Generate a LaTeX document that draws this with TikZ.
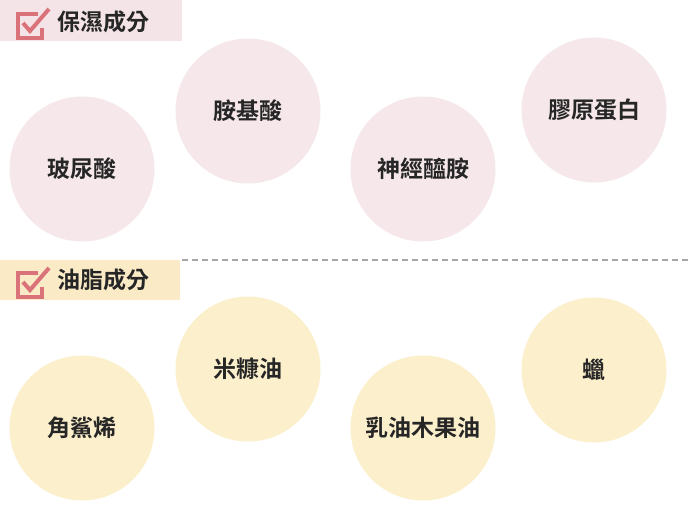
\documentclass[tikz,border=0pt]{standalone}
\usepackage{fontspec}
\newfontfamily\cjk{Noto Sans CJK TC}[UprightFont=* Bold]
\definecolor{pinkc}{HTML}{F6E8EA}
\definecolor{yelc}{HTML}{FCEFCB}
\definecolor{hpink}{HTML}{F5E4E7}
\definecolor{hyel}{HTML}{FAEAC6}
\definecolor{chk}{HTML}{DA727A}
\tikzset{
 circ/.style={circle,minimum size=145pt,inner sep=0pt,font=\cjk\fontsize{23}{25}\selectfont,text=black!85},
 pinkcirc/.style={circ,fill=pinkc},
 yelcirc/.style={circ,fill=yelc},
 head/.style={font=\cjk\fontsize{23}{25}\selectfont,text=black!85,anchor=west},
 chkline/.style={chk,line width=4pt}
}
\begin{document}
\begin{tikzpicture}[x=1pt,y=-1pt]
\useasboundingbox (0,0) rectangle (690,518);
\fill[white] (0,0) rectangle (690,518);
% header 1
\fill[hpink] (0,0) rectangle (182,41);
\draw[chkline] (38,14) -- (18,14) -- (18,38) -- (42,38) -- (42,28);
\draw[chkline] (23,23) -- (30,31) -- (49,9);
\node[head] (h1) at (54,22) {保濕成分};
% header 2
\fill[hyel] (0,260) rectangle (180,300);
\draw[chkline] (38,273) -- (18,273) -- (18,297) -- (42,297) -- (42,287);
\draw[chkline] (23,282) -- (30,290) -- (49,268);
\node[head] (h2) at (54,280) {油脂成分};
\coordinate (d1) at (182,260);
\coordinate (d2) at (690,260);
\draw[gray!70,line width=1.5pt,dash pattern=on 6pt off 4pt] (d1) -- (d2);
% circles
\node[pinkcirc] (a1) at (82,169) {玻尿酸};
\node[pinkcirc] (a2) at (248,111) {胺基酸};
\node[pinkcirc] (a3) at (423,169) {神經醯胺};
\node[pinkcirc] (a4) at (594,110) {膠原蛋白};
\node[yelcirc] (b1) at (82,428) {角鯊烯};
\node[yelcirc] (b2) at (248,369) {米糠油};
\node[yelcirc] (b3) at (423,428) {乳油木果油};
\node[yelcirc] (b4) at (594,370) {蠟};
\end{tikzpicture}
\end{document}
